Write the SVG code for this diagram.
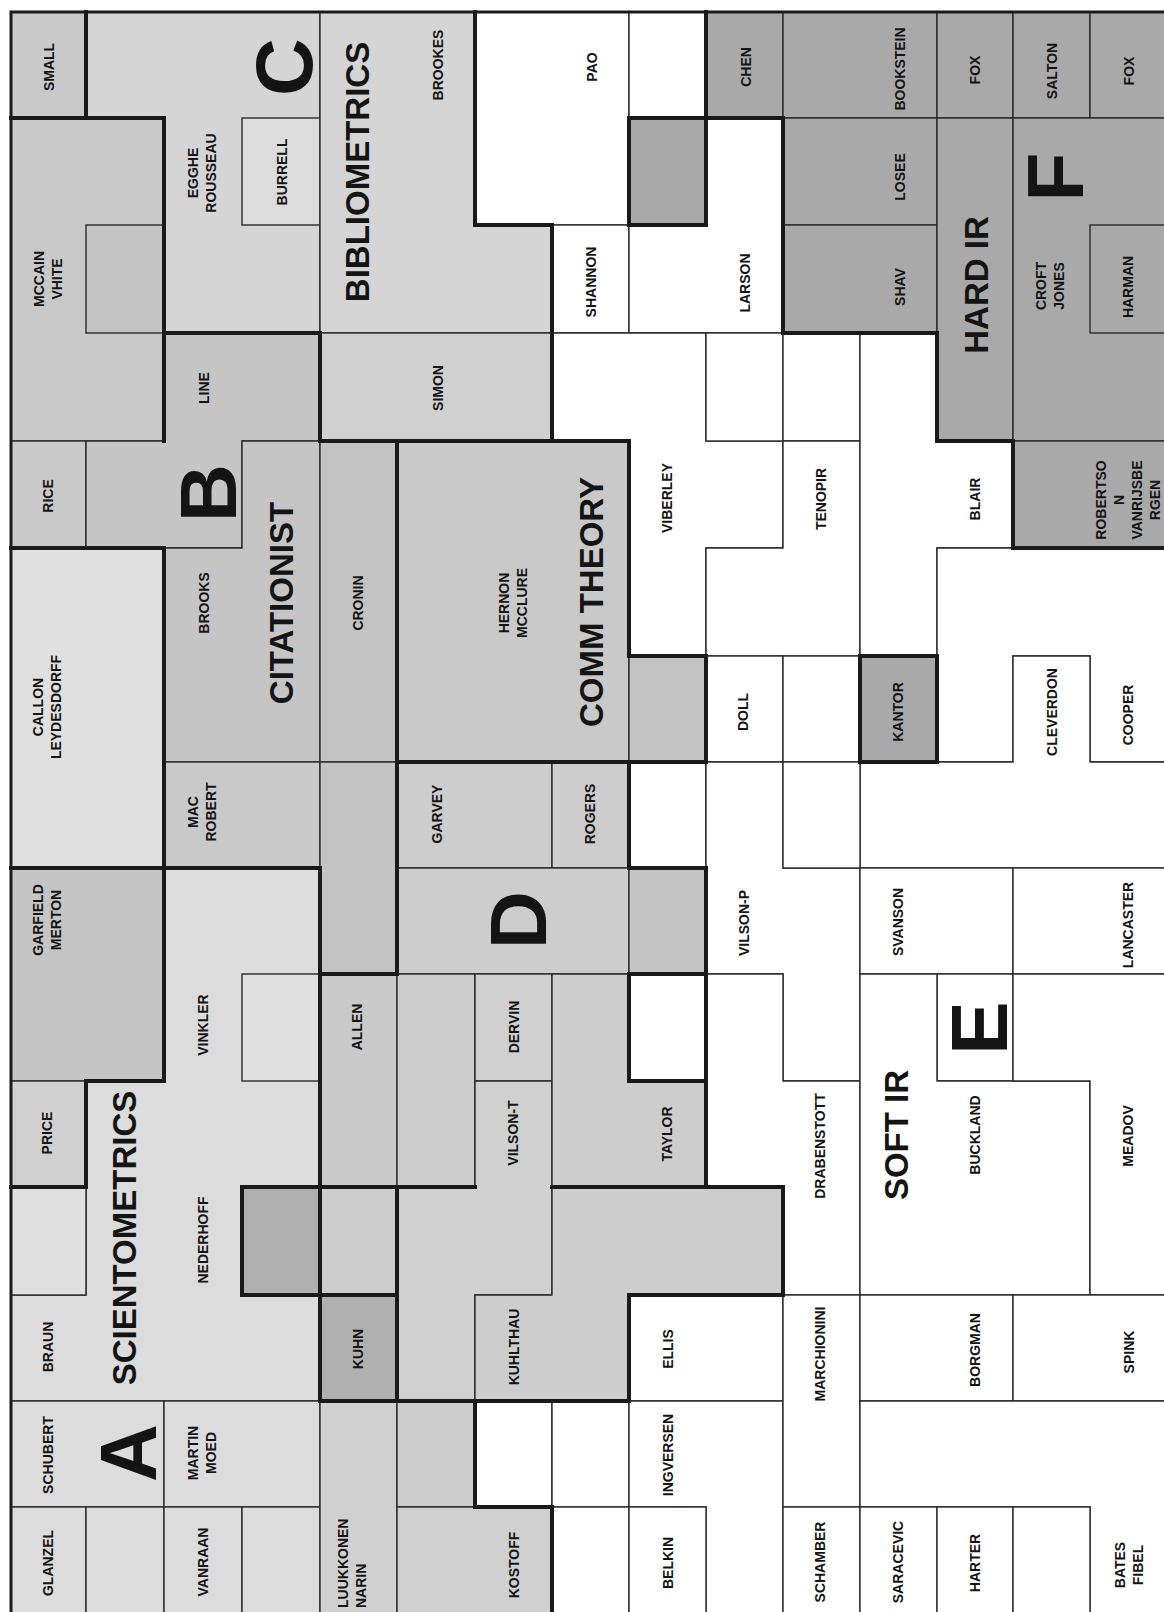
<svg xmlns="http://www.w3.org/2000/svg" width="1164" height="1612" viewBox="0 0 1164 1612">
<style>
.c{stroke:#2a2a2a;stroke-width:1.4}
.w{fill:#ffffff}
.m{fill:#c9c9c9}
.m2{fill:#c5c5c5}
.m3{fill:#cdcdcd}
.l{fill:#d5d5d5}
.l2{fill:#dcdcdc}
.d{fill:#a9a9a9}
.t{font-family:"Liberation Sans",Arial,sans-serif;font-size:14px;font-weight:bold;fill:#141414;text-anchor:middle}
.st{text-anchor:start}
.big{font-size:33px}
.let{font-size:80px}
.thick{fill:none;stroke:#1a1a1a;stroke-width:4;stroke-linecap:square}
</style>
<rect x="0" y="0" width="1164" height="1612" fill="#ffffff"/>
<g id="small"><rect class="c m" x="11" y="12" width="75" height="106"/><text class="t" transform="translate(49,67) rotate(-90)" y="5">SMALL</text></g>
<g id="egghe"><path class="c l" d="M86,12 H320 V333 H164 V118 H86 Z"/><text class="t" transform="translate(202,173) rotate(-90)"><tspan x="0" y="-4">EGGHE</tspan><tspan x="0" y="14">ROUSSEAU</tspan></text><text class="t let" transform="translate(283,67) rotate(-90)" y="29">C</text></g>
<g id="burrell"><rect class="c l2" x="242" y="118" width="78" height="107"/><text class="t" transform="translate(282,172) rotate(-90)" y="5">BURRELL</text></g>
<g id="mccain"><rect class="c m" x="11" y="118" width="153" height="323"/><rect class="c m2" x="86" y="225" width="78" height="108"/><text class="t" transform="translate(48,279) rotate(-90)"><tspan x="0" y="-4">MCCAIN</tspan><tspan x="0" y="14">VHITE</tspan></text></g>
<g id="bibliometrics"><path class="c l" d="M320,12 H475 V225 H552 V333 H320 Z"/><text class="t big" transform="translate(357,172) rotate(-90)" y="12">BIBLIOMETRICS</text><text class="t" transform="translate(438,65) rotate(-90)" y="5">BROOKES</text></g>
<g id="simon"><rect class="c" fill="#d0d0d0" x="320" y="333" width="232" height="108"/><text class="t" transform="translate(438,388) rotate(-90)" y="5">SIMON</text></g>
<g id="pao"><rect class="c w" x="475" y="12" width="154" height="213"/><text class="t" transform="translate(592,67) rotate(-90)" y="5">PAO</text></g>
<g id="c8r0"><rect class="c w" x="629" y="12" width="77" height="106"/></g>
<g id="c8r1"><rect class="c d" x="629" y="118" width="77" height="107"/></g>
<g id="chen"><rect class="c d" x="706" y="12" width="77" height="106"/><text class="t" transform="translate(746,67) rotate(-90)" y="5">CHEN</text></g>
<g id="bookstein"><rect class="c d" x="783" y="12" width="154" height="106"/><text class="t" transform="translate(900,69) rotate(-90)" y="5">BOOKSTEIN</text></g>
<g id="fox1"><rect class="c d" x="937" y="12" width="76" height="106"/><text class="t" transform="translate(975,70) rotate(-90)" y="5">FOX</text></g>
<g id="salton"><rect class="c d" x="1013" y="12" width="77" height="106"/><text class="t" transform="translate(1052,71) rotate(-90)" y="5">SALTON</text></g>
<g id="fox2"><rect class="c d" x="1090" y="12" width="76" height="106"/><text class="t" transform="translate(1129,71) rotate(-90)" y="5">FOX</text></g>
<g id="losee"><rect class="c d" x="783" y="118" width="154" height="107"/><text class="t" transform="translate(900,177) rotate(-90)" y="5">LOSEE</text></g>
<g id="shaw"><rect class="c d" x="783" y="225" width="154" height="108"/><text class="t" transform="translate(900,287) rotate(-90)" y="5">SHAV</text></g>
<g id="hardir"><rect class="c d" x="937" y="118" width="76" height="323"/><text class="t big" transform="translate(976,285) rotate(-90)" y="12">HARD IR</text></g>
<g id="f"><rect class="c d" x="1013" y="118" width="153" height="323"/><rect class="c d" x="1090" y="225" width="76" height="108"/><text class="t let" transform="translate(1054,177) rotate(-90)" y="29">F</text><text class="t" transform="translate(1050,286) rotate(-90)"><tspan x="0" y="-4">CROFT</tspan><tspan x="0" y="14">JONES</tspan></text><text class="t" transform="translate(1128,287) rotate(-90)" y="5">HARMAN</text></g>
<g id="robertson"><rect class="c d" x="1013" y="441" width="153" height="107"/><text class="t" transform="translate(1128,500) rotate(-90)"><tspan x="0" y="-22">ROBERTSO</tspan><tspan x="0" y="-4">N</tspan><tspan x="0" y="14">VANRIJSBE</tspan><tspan x="0" y="32">RGEN</tspan></text></g>
<g id="shannon"><rect class="c w" x="552" y="225" width="77" height="108"/><text class="t" transform="translate(591,282) rotate(-90)" y="5">SHANNON</text></g>
<g id="larson"><path class="c w" d="M706,118 H783 V333 H629 V225 H706 Z"/><text class="t" transform="translate(745,283) rotate(-90)" y="5">LARSON</text></g>
<g id="viberley"><path class="c w" d="M552,333 H706 V441 H783 V548 H706 V656 H629 V441 H552 Z"/><text class="t" transform="translate(667,498) rotate(-90)" y="5">VIBERLEY</text></g>
<g id="c9r3"><rect class="c w" x="706" y="333" width="77" height="108"/></g>
<g id="c10r3"><rect class="c w" x="783" y="333" width="77" height="108"/></g>
<g id="tenopir"><path class="c w" d="M783,441 H860 V656 H706 V548 H783 Z"/><text class="t" transform="translate(821,499) rotate(-90)" y="5">TENOPIR</text></g>
<g id="blair"><path class="c w" d="M860,333 H937 V441 H1013 V548 H937 V656 H860 Z"/><text class="t" transform="translate(975,499) rotate(-90)" y="5">BLAIR</text></g>
<g id="cooper"><path class="c w" d="M937,548 H1166 V762 H1090 V656 H1013 V762 H937 Z"/><text class="t" transform="translate(1128,715) rotate(-90)" y="5">COOPER</text></g>
<g id="cleverdon"><path class="c w" d="M1013,656 H1090 V762 H1166 V868 H860 V762 H1013 Z"/><text class="t" transform="translate(1052,712) rotate(-90)" y="5">CLEVERDON</text></g>
<g id="kantor"><rect class="c d" x="860" y="656" width="77" height="106"/><text class="t" transform="translate(898,712) rotate(-90)" y="5">KANTOR</text></g>
<g id="doll"><rect class="c w" x="706" y="656" width="77" height="106"/><text class="t" transform="translate(743,712) rotate(-90)" y="5">DOLL</text></g>
<g id="c10r6"><rect class="c w" x="783" y="656" width="77" height="106"/></g>
<g id="rice"><rect class="c m" x="11" y="441" width="75" height="107"/><text class="t" transform="translate(48,496) rotate(-90)" y="5">RICE</text></g>
<g id="line"><path class="c m2" d="M164,333 H320 V441 H242 V548 H86 V441 H164 Z"/><text class="t" transform="translate(204,388) rotate(-90)" y="5">LINE</text><text class="t let" transform="translate(207,493) rotate(-90)" y="29">B</text></g>
<g id="brooks"><path class="c m2" d="M242,441 H320 V762 H164 V548 H242 Z"/><text class="t" transform="translate(204,603) rotate(-90)" y="5">BROOKS</text><text class="t big" transform="translate(281,603) rotate(-90)" y="12">CITATIONIST</text></g>
<g id="cronin"><rect class="c" fill="#c3c3c3" x="320" y="441" width="77" height="321"/><text class="t" transform="translate(358,603) rotate(-90)" y="5">CRONIN</text></g>
<g id="callon"><rect class="c" fill="#e0e0e0" x="11" y="548" width="153" height="320"/><text class="t" transform="translate(47,707) rotate(-90)"><tspan x="0" y="-4">CALLON</tspan><tspan x="0" y="14">LEYDESDORFF</tspan></text></g>
<g id="hernon"><rect class="c m" x="397" y="441" width="232" height="321"/><text class="t" transform="translate(513,603) rotate(-90)"><tspan x="0" y="-4">HERNON</tspan><tspan x="0" y="14">MCCLURE</tspan></text><text class="t big" transform="translate(591,602) rotate(-90)" y="12">COMM THEORY</text></g>
<g id="c8r6"><rect class="c" fill="#c3c3c3" x="629" y="656" width="77" height="106"/></g>
<g id="macrobert"><rect class="c m" x="164" y="762" width="156" height="106"/><text class="t" transform="translate(202,812) rotate(-90)"><tspan x="0" y="-4">MAC</tspan><tspan x="0" y="14">ROBERT</tspan></text></g>
<g id="c4r7"><rect class="c" fill="#c3c3c3" x="320" y="762" width="77" height="212"/></g>
<g id="garvey"><rect class="c m3" x="397" y="762" width="155" height="106"/><text class="t" transform="translate(437,814) rotate(-90)" y="5">GARVEY</text></g>
<g id="rogers"><rect class="c m3" x="552" y="762" width="77" height="106"/><text class="t" transform="translate(590,814) rotate(-90)" y="5">ROGERS</text></g>
<g id="c8r7"><rect class="c w" x="629" y="762" width="77" height="106"/></g>
<g id="vilsonp"><path class="c w" d="M706,762 H783 V868 H860 V1081 H783 V974 H706 Z"/><text class="t" transform="translate(744,923) rotate(-90)" y="5">VILSON-P</text></g>
<g id="c10r7"><rect class="c w" x="783" y="762" width="77" height="106"/></g>
<g id="garfield"><rect class="c m2" x="11" y="868" width="153" height="213"/><text class="t" transform="translate(47,920) rotate(-90)"><tspan x="0" y="-4">GARFIELD</tspan><tspan x="0" y="14">MERTON</tspan></text></g>
<g id="scientometrics"><path class="c l2" d="M164,868 H320 V1401 H11 V1295 H86 V1081 H164 Z"/><rect class="c" fill="#e0e0e0" x="242" y="974" width="78" height="107"/><rect class="c" fill="#b0b0b0" x="242" y="1187" width="78" height="108"/><text class="t" transform="translate(203,1025) rotate(-90)" y="5">VINKLER</text><text class="t" transform="translate(203,1240) rotate(-90)" y="5">NEDERHOFF</text><text class="t" transform="translate(48,1347) rotate(-90)" y="5">BRAUN</text><text class="t big" transform="translate(124,1238) rotate(-90)" y="12">SCIENTOMETRICS</text></g>
<g id="price"><rect class="c" fill="#d0d0d0" x="11" y="1081" width="75" height="106"/><text class="t" transform="translate(47,1133) rotate(-90)" y="5">PRICE</text></g>
<g id="c0r11"><rect class="c" fill="#e0e0e0" x="11" y="1187" width="75" height="108"/></g>
<g id="d"><rect class="c m3" x="397" y="868" width="232" height="106"/><text class="t let" transform="translate(517,920) rotate(-90)" y="29">D</text></g>
<g id="c8r8"><rect class="c m2" x="629" y="868" width="77" height="106"/></g>
<g id="svanson"><rect class="c w" x="860" y="868" width="153" height="106"/><text class="t" transform="translate(898,922) rotate(-90)" y="5">SVANSON</text></g>
<g id="lancaster"><rect class="c w" x="1013" y="868" width="153" height="106"/><text class="t" transform="translate(1128,925) rotate(-90)" y="5">LANCASTER</text></g>
<g id="allen"><rect class="c m" x="320" y="974" width="77" height="213"/><text class="t" transform="translate(357,1027) rotate(-90)" y="5">ALLEN</text></g>
<g id="c5r9"><rect class="c m3" x="397" y="974" width="78" height="213"/></g>
<g id="dervin"><rect class="c" fill="#d0d0d0" x="475" y="974" width="77" height="107"/><text class="t" transform="translate(514,1027) rotate(-90)" y="5">DERVIN</text></g>
<g id="vilsont"><path class="c" fill="#d0d0d0" d="M475,1081 H552 V1295 H475 V1401 H397 V1187 H475 Z"/><text class="t" transform="translate(513,1133) rotate(-90)" y="5">VILSON-T</text></g>
<g id="taylor"><path class="c m3" d="M552,974 H629 V1081 H706 V1187 H552 Z"/><text class="t" transform="translate(667,1134) rotate(-90)" y="5">TAYLOR</text></g>
<g id="c8r9"><rect class="c w" x="629" y="974" width="77" height="107"/></g>
<g id="drabenstott"><path class="c w" d="M706,974 H783 V1081 H860 V1295 H783 V1187 H706 Z"/><text class="t" transform="translate(820,1146) rotate(-90)" y="5">DRABENSTOTT</text></g>
<g id="e"><rect class="c w" x="937" y="974" width="76" height="107"/><text class="t let" transform="translate(978,1028) rotate(-90)" y="29">E</text></g>
<g id="softir"><path class="c w" d="M860,974 H937 V1081 H1090 V1295 H860 Z"/><text class="t big" transform="translate(896,1135) rotate(-90)" y="12">SOFT IR</text><text class="t" transform="translate(975,1135) rotate(-90)" y="5">BUCKLAND</text></g>
<g id="meadow"><path class="c w" d="M1013,974 H1166 V1295 H1090 V1081 H1013 Z"/><text class="t" transform="translate(1128,1136) rotate(-90)" y="5">MEADOV</text></g>
<g id="kuhlthau"><path class="c m3" d="M552,1187 H783 V1295 H629 V1401 H475 V1295 H552 Z"/><text class="t" transform="translate(514,1347) rotate(-90)" y="5">KUHLTHAU</text></g>
<g id="c4r11"><rect class="c m3" x="320" y="1187" width="77" height="108"/></g>
<g id="kuhn"><rect class="c" fill="#b0b0b0" x="320" y="1295" width="77" height="106"/><text class="t" transform="translate(358,1349) rotate(-90)" y="5">KUHN</text></g>
<g id="schubert"><rect class="c l2" x="11" y="1401" width="153" height="106"/><text class="t" transform="translate(48,1455) rotate(-90)" y="5">SCHUBERT</text><text class="t let" transform="translate(127,1453) rotate(-90)" y="29">A</text></g>
<g id="martin"><rect class="c l2" x="164" y="1401" width="156" height="106"/><text class="t" transform="translate(202,1453) rotate(-90)"><tspan x="0" y="-4">MARTIN</tspan><tspan x="0" y="14">MOED</tspan></text></g>
<g id="glanzel"><rect class="c l2" x="11" y="1507" width="75" height="107"/><text class="t" transform="translate(48,1563) rotate(-90)" y="5">GLANZEL</text></g>
<g id="c1r14"><rect class="c l2" x="86" y="1507" width="78" height="107"/></g>
<g id="vanraan"><rect class="c l2" x="164" y="1507" width="78" height="107"/><text class="t" transform="translate(203,1562) rotate(-90)" y="5">VANRAAN</text></g>
<g id="c3r14"><rect class="c l2" x="242" y="1507" width="78" height="107"/></g>
<g id="luukkonen"><rect class="c" fill="#d0d0d0" x="320" y="1401" width="77" height="213"/><text class="t st" transform="translate(352,1608) rotate(-90)"><tspan x="0" y="-4">LUUKKONEN</tspan><tspan x="0" y="14">NARIN</tspan></text></g>
<g id="c5r13"><rect class="c m3" x="397" y="1401" width="78" height="106"/></g>
<g id="kostoff"><rect class="c" fill="#d0d0d0" x="397" y="1507" width="155" height="107"/><text class="t" transform="translate(514,1565) rotate(-90)" y="5">KOSTOFF</text></g>
<g id="c6r13"><rect class="c w" x="475" y="1401" width="77" height="106"/></g>
<g id="c7r13"><rect class="c w" x="552" y="1401" width="77" height="106"/></g>
<g id="c7r14"><rect class="c w" x="552" y="1507" width="77" height="107"/></g>
<g id="ellis"><rect class="c w" x="629" y="1295" width="154" height="106"/><text class="t" transform="translate(668,1349) rotate(-90)" y="5">ELLIS</text></g>
<g id="ingversen"><path class="c w" d="M629,1401 H783 V1614 H706 V1507 H629 Z"/><text class="t" transform="translate(668,1455) rotate(-90)" y="5">INGVERSEN</text></g>
<g id="belkin"><rect class="c w" x="629" y="1507" width="77" height="107"/><text class="t" transform="translate(668,1563) rotate(-90)" y="5">BELKIN</text></g>
<g id="marchionini"><rect class="c w" x="783" y="1295" width="77" height="212"/><text class="t" transform="translate(820,1354) rotate(-90)" y="5">MARCHIONINI</text></g>
<g id="schamber"><rect class="c w" x="783" y="1507" width="77" height="107"/><text class="t" transform="translate(820,1562) rotate(-90)" y="5">SCHAMBER</text></g>
<g id="borgman"><rect class="c w" x="860" y="1295" width="153" height="106"/><text class="t" transform="translate(975,1350) rotate(-90)" y="5">BORGMAN</text></g>
<g id="spink"><rect class="c w" x="1013" y="1295" width="153" height="106"/><text class="t" transform="translate(1129,1352) rotate(-90)" y="5">SPINK</text></g>
<g id="bates"><path class="c w" d="M860,1401 H1166 V1614 H1090 V1507 H860 Z"/><text class="t" transform="translate(1129,1565) rotate(-90)"><tspan x="0" y="-4">BATES</tspan><tspan x="0" y="14">FIBEL</tspan></text></g>
<g id="saracevic"><rect class="c w" x="860" y="1507" width="77" height="107"/><text class="t" transform="translate(898,1562) rotate(-90)" y="5">SARACEVIC</text></g>
<g id="harter"><rect class="c w" x="937" y="1507" width="76" height="107"/><text class="t" transform="translate(975,1563) rotate(-90)" y="5">HARTER</text></g>
<g id="c13r14"><rect class="c w" x="1013" y="1507" width="77" height="107"/></g>
<g id="boundaries">
<path class="thick" d="M86,12 V118 M11,118 H164 M164,118 V441 M164,333 H320 V441 M320,441 H629 V656 H706 V762 M397,762 H706 M475,12 V225 H552 V441 M397,441 V974 M629,762 V868 H706 M706,868 V1187 M629,974 V1081 H706 M629,974 H706 M552,1187 H783 V1295 H629 V1401 M320,1401 H629 M475,1401 V1507 H552 V1614 M242,1187 H475 M397,1187 V1401 M320,868 V1187 M320,974 H397 M11,868 H320 M164,548 V1081 M11,548 H164 M86,1081 H164 M86,1081 V1187 H11 M706,12 V118 H783 V333 H937 V441 H1013 V548 H1166"/>
<rect class="thick" x="320" y="1295" width="77" height="106"/>
<rect class="thick" x="242" y="1187" width="78" height="108"/>
<rect class="thick" x="629" y="118" width="77" height="107"/>
<rect class="thick" x="860" y="656" width="77" height="106"/>
<rect fill="none" stroke="#1a1a1a" stroke-width="3" x="11" y="12" width="1160" height="1610"/>
</g>
</svg>
